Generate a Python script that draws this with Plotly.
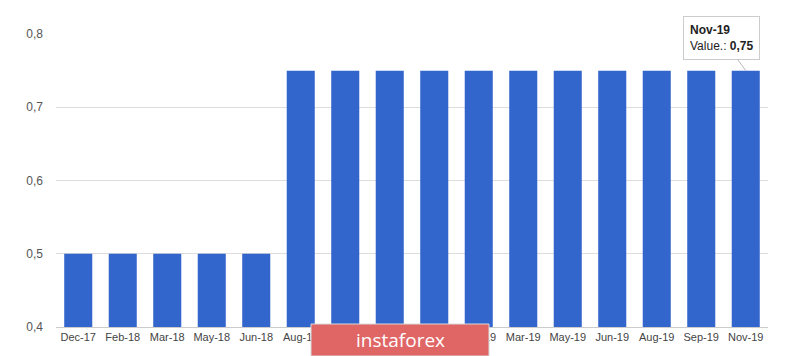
import plotly.graph_objects as go

categories = ["Dec-17", "Feb-18", "Mar-18", "May-18", "Jun-18", "Aug-18", "Sep-18", "Nov-18",
              "Dec-18", "Feb-19", "Mar-19", "May-19", "Jun-19", "Aug-19", "Sep-19", "Nov-19"]
values = [0.5, 0.5, 0.5, 0.5, 0.5, 0.75, 0.75, 0.75, 0.75, 0.75, 0.75, 0.75, 0.75, 0.75, 0.75, 0.75]
y_ticks = [0.4, 0.5, 0.6, 0.7, 0.8]

fig = go.Figure()
fig.add_trace(go.Bar(x=categories, y=values, marker=dict(color="#3366cc", line=dict(width=0)),
                     hoverinfo="skip"))

PW, PH = 712, 293
fig.update_layout(
    width=800, height=356,
    margin=dict(l=48, r=40, t=26, b=37),
    paper_bgcolor="white", plot_bgcolor="white",
    separators=", ",
    bargap=0.37,
    showlegend=False,
    font=dict(family="Arial, Liberation Sans, sans-serif", size=11, color="#444"),
    xaxis=dict(showgrid=False, showline=True, linecolor="#cccccc", linewidth=1,
               ticks="", tickfont=dict(size=11, color="#444")),
    yaxis=dict(range=[0.4, 0.8], tickvals=y_ticks, tickformat=".1f",
               showgrid=True, gridcolor="#dddddd", zeroline=False, showline=False,
               ticks="", ticklen=0, ticklabelstandoff=12,
               tickfont=dict(size=12, color="#555")),
)

# tooltip for the last bar
last = categories[-1]
fig.add_annotation(
    x=last, y=values[-1], xref="x", yref="y",
    text="<b>%s</b><br>Value.: <b>%s</b>" % (last, f"{values[-1]:.2f}".replace(".", ",")),
    showarrow=True, arrowhead=0, arrowwidth=1, arrowcolor="#bbbbbb",
    ax=-24, ay=-33, align="left",
    bgcolor="white", bordercolor="#cccccc", borderwidth=1, borderpad=6,
    font=dict(size=12, color="#222"),
)

# watermark
fig.add_shape(type="rect", xref="paper", yref="paper", x0=(303 - 48) / PW, x1=(481 - 48) / PW,
              y0=-29 / PH, y1=3 / PH, fillcolor="#e06666", line=dict(color="#d9d9d9", width=1),
              layer="above")
fig.add_annotation(x=(392 - 48) / PW, y=-13 / PH, xref="paper", yref="paper",
                   xanchor="center", yanchor="middle",
                   text="instaforex", showarrow=False,
                   font=dict(size=19, color="white", family="Open Sans, sans-serif"))

fig.write_html("out.html")
